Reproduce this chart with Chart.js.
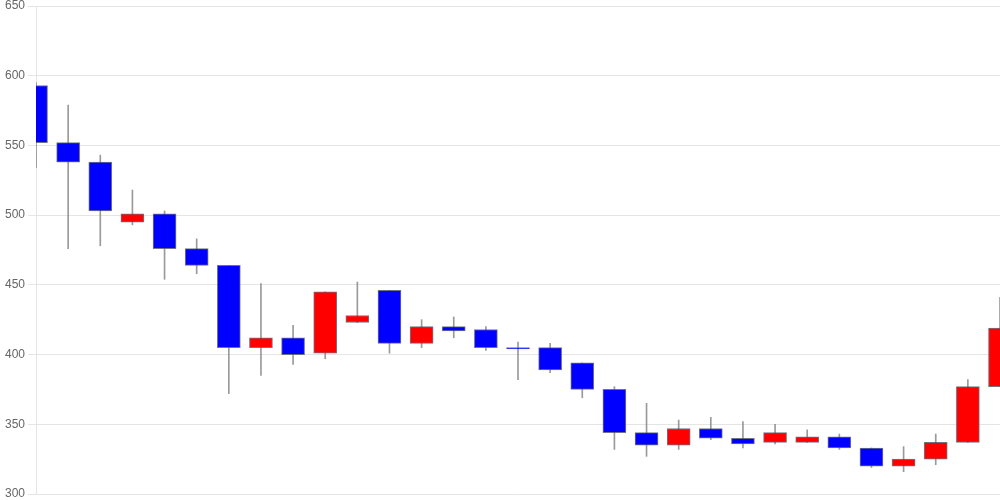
<!DOCTYPE html>
<html>
<head>
<meta charset="utf-8">
<script src="https://cdn.jsdelivr.net/npm/chart.js@4/dist/chart.umd.min.js"></script>
<style>
  html, body { margin: 0; padding: 0; background: #fff; }
  #wrap { width: 1000px; height: 500px; }
</style>
</head>
<body>
<div id="wrap"><canvas id="candle-chart"></canvas></div>
<script>
// Candle data (one entry per session)
const labels = ['1','2','3','4','5','6','7','8','9','10','11','12','13','14','15','16',
                '17','18','19','20','21','22','23','24','25','26','27','28','29','30','31'];
const opens  = [593, 552, 538, 495, 501, 476, 464, 405, 412, 401, 423, 446, 408, 420, 418, 405,
                405, 394, 375, 344, 335, 347, 340, 337, 337, 341, 333, 320, 325, 337, 377];
const closes = [552, 538, 503, 501, 476, 464, 405, 412, 400, 445, 428, 408, 420, 417, 405, 404,
                389, 375, 344, 335, 347, 340, 336, 344, 341, 333, 320, 325, 337, 377, 419];
const highs  = [595, 579, 543, 518, 503, 483, 464, 451, 421, 445, 452, 446, 425, 427, 420, 409,
                408, 394, 377, 365, 353, 355, 352, 350, 346, 343, 333, 334, 343, 382, 441];
const lows   = [534, 476, 478, 493, 454, 458, 372, 385, 393, 397, 423, 401, 405, 412, 403, 382,
                387, 369, 332, 327, 332, 339, 333, 336, 337, 332, 319, 316, 321, 337, 377];
const yTicks = [300, 350, 400, 450, 500, 550, 600, 650];

let colors = {
    up: "#ff0000",
    down: "#0000ff",
    edge: "rgba(80,80,100,0.8)",
    wick: "rgba(120,120,120,0.75)"
};

// bodies run from open to close, wicks from low to high
let bodies = opens.map((o, i) => [Math.min(o, closes[i]), Math.max(o, closes[i])]);
let wicks = lows.map((l, i) => [l, highs[i]]);
let bodyColors = opens.map((o, i) => closes[i] >= o ? colors.up : colors.down);

let chart = new Chart(document.getElementById('candle-chart'), {
    type: 'bar',
    data: {
        labels: labels,
        datasets: [
            {
                label: 'body',
                data: bodies,
                backgroundColor: bodyColors,
                borderColor: colors.edge,
                borderWidth: 1,
                borderSkipped: false,
                barThickness: 23,
                grouped: false,
                clip: 0,
                order: 1
            },
            {
                label: 'wick',
                data: wicks,
                backgroundColor: colors.wick,
                borderWidth: 0,
                barThickness: 1,
                grouped: false,
                clip: 0,
                order: 2
            }
        ]
    },
    options: {
        responsive: true,
        maintainAspectRatio: false,
        animation: false,
        layout: { padding: { left: 2 } },
        plugins: {
            legend: { display: false },
            tooltip: { enabled: false }
        },
        scales: {
            x: {
                display: false,
                offset: false
            },
            y: {
                min: yTicks[0],
                max: yTicks[yTicks.length - 1],
                afterBuildTicks: function(axis) {
                    axis.ticks = yTicks.map(v => ({ value: v }));
                },
                // plot area runs from y=6 to y=494 in the reference
                afterFit: function(axis) {
                    axis.paddingTop = 6;
                    axis.paddingBottom = 6;
                },
                grid: { color: 'rgba(0,0,0,0.1)' },
                border: { color: 'rgba(0,0,0,0.1)' },
                ticks: {
                    color: '#666',
                    font: { family: 'Liberation Sans, Arial, sans-serif', size: 12 }
                }
            }
        }
    }
});
</script>
</body>
</html>
